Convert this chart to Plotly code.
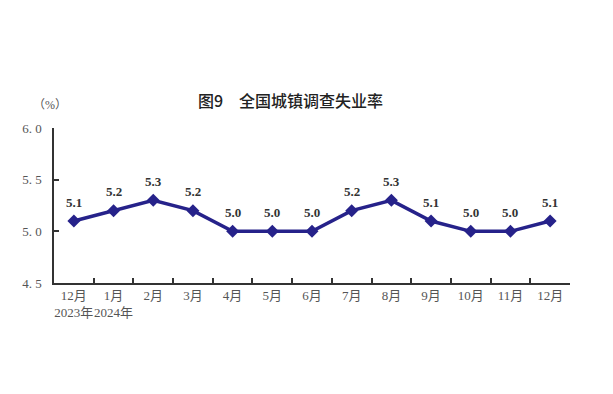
import plotly.graph_objects as go

months = ["12月", "1月", "2月", "3月", "4月", "5月", "6月", "7月", "8月", "9月", "10月", "11月", "12月"]
year_labels = ["2023年", "2024年", "", "", "", "", "", "", "", "", "", "", ""]
rates = [5.1, 5.2, 5.3, 5.2, 5.0, 5.0, 5.0, 5.2, 5.3, 5.1, 5.0, 5.0, 5.1]
y_ticks = [4.5, 5.0, 5.5, 6.0]
y_tick_text = ["4. 5", "5. 0", "5. 5", "6. 0"]

x = list(range(len(months)))
ticktext = [m + ("<br>" + y if y else "") for m, y in zip(months, year_labels)]

serif = "Liberation Serif, Noto Sans CJK SC, serif"
W, H = 613, 394
L, T, R, B = 46, 120, 51, 119  # page has 8px body margin offset

fig = go.Figure()
fig.add_trace(go.Scatter(
    x=x, y=rates, mode="lines+markers",
    line=dict(color="#26228a", width=3.5),
    marker=dict(symbol="diamond", size=10, color="#26228a"),
    cliponaxis=False, hoverinfo="skip",
))
fig.add_trace(go.Scatter(x=[None], y=[None], xaxis="x2", showlegend=False, hoverinfo="skip"))

for xi, v in zip(x, rates):
    fig.add_annotation(x=xi, y=v, text=f"{v:.1f}", showarrow=False, yshift=19,
                       xanchor="center", yanchor="middle",
                       font=dict(family=serif, size=13, color="#333333", weight="bold"))

fig.update_layout(
    width=W, height=H,
    margin=dict(l=L, r=R, t=T, b=B, autoexpand=False),
    paper_bgcolor="white", plot_bgcolor="white",
    showlegend=False,
    xaxis=dict(
        range=[-0.5, 12.5], tickmode="array", tickvals=x, ticktext=ticktext,
        showgrid=False, zeroline=False, showline=True, linecolor="#333333", linewidth=1.5,
        ticks="", tickangle=0, tickfont=dict(family=serif, size=13, color="#555555"),
    ),
    xaxis2=dict(
        range=[-0.5, 12.5], overlaying="x", tickmode="array",
        tickvals=[i + 0.5 for i in range(-1, 13)], showticklabels=False,
        ticks="inside", ticklen=5, tickwidth=1.5, tickcolor="#333333",
        showgrid=False, zeroline=False, showline=False, anchor="y",
    ),
    yaxis=dict(
        range=[4.5, 6.0], tickmode="array", tickvals=y_ticks, ticktext=y_tick_text,
        showgrid=False, zeroline=False, showline=True, linecolor="#333333", linewidth=1.5,
        ticks="inside", ticklen=5, tickwidth=1.5, tickcolor="#333333",
        tickfont=dict(family=serif, size=13, color="#555555"), ticklabelstandoff=8,
    ),
)
# title, positioned in pixel terms (minus the 8px page offset)
fig.add_annotation(text="图9　全国城镇调查失业率", xref="paper", yref="paper",
                   x=(290 - 8 - L) / (W - L - R), y=1 + (T - (100 - 8)) / (H - T - B),
                   xanchor="center", yanchor="middle", showarrow=False,
                   font=dict(family="Noto Sans CJK SC", size=16, color="#222222", weight=500))
fig.add_annotation(text="（%）", xref="paper", yref="paper",
                   x=(50 - 8 - L) / (W - L - R), y=1 + (T - (105 - 8)) / (H - T - B),
                   xanchor="center", yanchor="middle",
                   showarrow=False, font=dict(family=serif, size=12, color="#555555"))

fig.write_html("out.html")
